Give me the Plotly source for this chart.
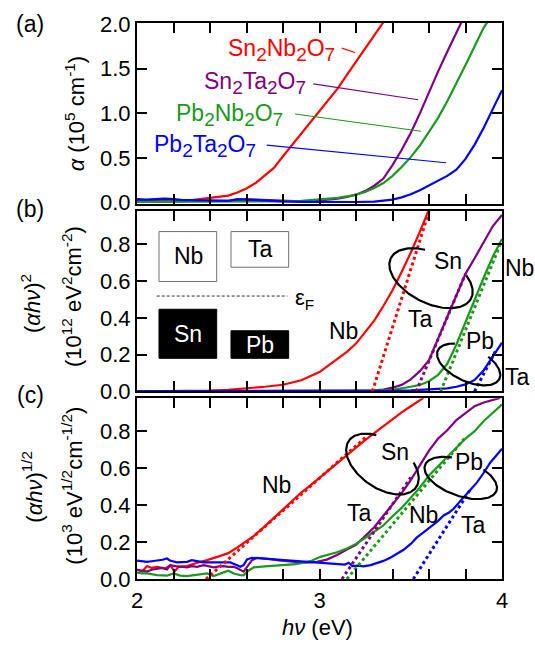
import numpy as np
import plotly.graph_objects as go

# ------------------------------------------------------------------
# DATA
# ------------------------------------------------------------------
# panel (a): alpha (1e5 cm^-1) vs photon energy (eV)
a_snnb_x = [2.0, 2.1, 2.2, 2.3, 2.4, 2.5, 2.55, 2.6, 2.65, 2.7, 2.75, 2.8, 2.85, 2.9, 2.95,
            3.0, 3.05, 3.1, 3.15, 3.2, 3.25, 3.3, 3.35]
a_snnb_y = [0.01, 0.01, 0.015, 0.028, 0.05, 0.08, 0.115, 0.16, 0.22, 0.30, 0.39, 0.52, 0.645,
            0.77, 0.90, 1.03, 1.15, 1.28, 1.43, 1.58, 1.73, 1.87, 2.02]

a_snta_x = [2.0, 2.1, 2.2, 2.3, 2.4, 2.5, 2.55, 2.6, 2.65, 2.7, 2.8, 2.9, 3.0, 3.05, 3.1, 3.15,
            3.2, 3.25, 3.3, 3.35, 3.4, 3.45, 3.5, 3.55, 3.6, 3.65, 3.7, 3.75, 3.78]
a_snta_y = [0.02, 0.015, 0.015, 0.02, 0.02, 0.02, 0.03, 0.04, 0.035, 0.03, 0.02, 0.015, 0.025,
            0.035, 0.045, 0.065, 0.09, 0.13, 0.19, 0.27, 0.42, 0.59, 0.78, 1.0, 1.24, 1.47,
            1.69, 1.91, 2.03]

a_pbnb_x = [2.0, 2.2, 2.4, 2.6, 2.8, 2.9, 3.0, 3.05, 3.1, 3.15, 3.2, 3.25, 3.3, 3.35, 3.4,
            3.45, 3.5, 3.55, 3.6, 3.65, 3.7, 3.75, 3.8, 3.85, 3.9, 3.93]
a_pbnb_y = [0.01, 0.01, 0.01, 0.015, 0.015, 0.02, 0.035, 0.045, 0.055, 0.07, 0.09, 0.12,
            0.165, 0.22, 0.30, 0.40, 0.51, 0.64, 0.79, 0.95, 1.135, 1.33, 1.54, 1.75, 1.96, 2.05]

a_pbta_x = [2.0, 2.05, 2.1, 2.15, 2.2, 2.25, 2.3, 2.4, 2.5, 2.55, 2.6, 2.7, 2.8, 2.9, 3.0,
            3.1, 3.2, 3.3, 3.35, 3.4, 3.45, 3.5, 3.55, 3.6, 3.65, 3.7, 3.75, 3.8, 3.85, 3.9,
            3.95, 4.0]
a_pbta_y = [0.04, 0.035, 0.04, 0.045, 0.04, 0.03, 0.03, 0.025, 0.02, 0.04, 0.035, 0.02, 0.015,
            0.01, 0.008, 0.008, 0.008, 0.012, 0.02, 0.035, 0.06, 0.095, 0.14, 0.195, 0.245,
            0.30, 0.37, 0.49, 0.65, 0.84, 1.05, 1.26]

# panel (b): (alpha h nu)^2  (1e12 eV^2 cm^-2)
b_snnb_x = [2.0, 2.2, 2.4, 2.5, 2.6, 2.7, 2.8, 2.9, 3.0, 3.1, 3.15, 3.2, 3.25, 3.3, 3.35,
            3.4, 3.45, 3.5, 3.55, 3.6]
b_snnb_y = [0.0, 0.001, 0.004, 0.008, 0.015, 0.025, 0.036, 0.06, 0.105, 0.175, 0.215, 0.26,
            0.32, 0.385, 0.465, 0.55, 0.65, 0.755, 0.87, 0.99]

b_snta_x = [2.0, 2.5, 3.0, 3.2, 3.3, 3.35, 3.4, 3.45, 3.5, 3.55, 3.6, 3.65, 3.7, 3.75, 3.8,
            3.85, 3.9, 3.95, 4.0]
b_snta_y = [0.0, 0.0, 0.002, 0.004, 0.006, 0.01, 0.02, 0.035, 0.065, 0.11, 0.17, 0.29, 0.41,
            0.525, 0.64, 0.725, 0.815, 0.9, 0.96]

b_pbnb_x = [2.0, 3.0, 3.3, 3.4, 3.45, 3.5, 3.55, 3.6, 3.65, 3.7, 3.75, 3.8, 3.85, 3.9, 3.95,
            4.0]
b_pbnb_y = [0.0, 0.002, 0.004, 0.008, 0.015, 0.025, 0.035, 0.055, 0.09, 0.15, 0.255, 0.38,
            0.505, 0.62, 0.735, 0.83]

b_pbta_x = [2.0, 3.0, 3.4, 3.5, 3.6, 3.7, 3.75, 3.8, 3.85, 3.9, 3.95, 4.0]
b_pbta_y = [0.0, 0.0, 0.003, 0.005, 0.009, 0.016, 0.025, 0.038, 0.062, 0.115, 0.19, 0.265]

# linear extrapolations in (b) (direct gap)
b_fit_snnb = ([3.29, 3.60], [0.0, 0.98])
b_fit_snta = ([3.53, 3.80], [0.0, 0.64])
b_fit_pbnb = ([3.664, 3.99], [0.0, 0.80])
b_fit_pbta = ([3.85, 3.965], [0.0, 0.22])

# panel (c): (alpha h nu)^(1/2)  (1e3 eV^1/2 cm^-1/2)
c_snnb_x = [2.0, 2.027, 2.055, 2.08, 2.11, 2.155, 2.183, 2.205, 2.228, 2.274, 2.329, 2.384,
            2.457, 2.5, 2.548, 2.6, 2.639, 2.7, 2.75, 2.8, 2.85, 2.9, 2.95, 3.0, 3.05, 3.1,
            3.15, 3.2, 3.25, 3.3, 3.35, 3.4, 3.45, 3.5, 3.57]
c_snnb_y = [0.052, 0.04, 0.07, 0.06, 0.066, 0.056, 0.075, 0.04, 0.066, 0.07, 0.088, 0.102,
            0.125, 0.14, 0.17, 0.205, 0.232, 0.285, 0.33, 0.38, 0.42, 0.468, 0.507, 0.548,
            0.59, 0.633, 0.672, 0.71, 0.752, 0.79, 0.828, 0.862, 0.902, 0.935, 0.98]

c_snta_x = [2.0, 2.027, 2.055, 2.08, 2.11, 2.14, 2.164, 2.183, 2.21, 2.237, 2.274, 2.3, 2.329,
            2.365, 2.39, 2.42, 2.45, 2.475, 2.5, 2.53, 2.55, 2.566, 2.584, 2.603, 2.63, 2.658,
            2.7, 2.73, 2.78, 2.82, 2.87, 2.913, 2.95, 2.986, 3.04, 3.096, 3.15, 3.2, 3.25,
            3.3, 3.35, 3.4, 3.45, 3.5, 3.55, 3.6, 3.65, 3.7, 3.75, 3.8, 3.85, 3.9, 3.95, 3.99]
c_snta_y = [0.05, 0.045, 0.04, 0.05, 0.057, 0.06, 0.052, 0.075, 0.07, 0.066, 0.063, 0.07,
            0.066, 0.075, 0.068, 0.063, 0.068, 0.07, 0.066, 0.066, 0.058, 0.048, 0.04, 0.066,
            0.102, 0.115, 0.112, 0.108, 0.1, 0.097, 0.092, 0.088, 0.09, 0.093, 0.105, 0.13,
            0.16, 0.185, 0.232, 0.28, 0.342, 0.405, 0.465, 0.535, 0.612, 0.695, 0.76, 0.805,
            0.86, 0.9, 0.935, 0.955, 0.97, 0.98]

c_pbnb_x = [2.0, 2.027, 2.055, 2.08, 2.11, 2.14, 2.164, 2.2, 2.237, 2.274, 2.3, 2.329, 2.36,
            2.384, 2.42, 2.45, 2.475, 2.5, 2.53, 2.566, 2.584, 2.61, 2.64, 2.7, 2.73, 2.78,
            2.82, 2.87, 2.913, 2.96, 3.005, 3.05, 3.096, 3.15, 3.2, 3.25, 3.3, 3.35, 3.4,
            3.45, 3.5, 3.55, 3.6, 3.65, 3.7, 3.75, 3.8, 3.85, 3.9, 3.95, 4.0]
c_pbnb_y = [0.035, 0.03, 0.03, 0.025, 0.021, 0.02, 0.018, 0.03, 0.018, 0.016, 0.02, 0.021,
            0.028, 0.03, 0.016, 0.025, 0.036, 0.045, 0.03, 0.021, 0.02, 0.045, 0.063, 0.068,
            0.07, 0.072, 0.075, 0.08, 0.088, 0.1, 0.12, 0.132, 0.145, 0.165, 0.19, 0.222,
            0.255, 0.29, 0.34, 0.385, 0.44, 0.495, 0.56, 0.61, 0.66, 0.71, 0.76, 0.8, 0.855,
            0.9, 0.945]

c_pbta_x = [2.0, 2.027, 2.055, 2.08, 2.11, 2.14, 2.164, 2.18, 2.219, 2.25, 2.274, 2.3, 2.329,
            2.365, 2.4, 2.457, 2.511, 2.548, 2.566, 2.584, 2.603, 2.63, 2.7, 2.73, 2.78, 2.82,
            2.87, 2.913, 2.96, 3.005, 3.05, 3.096, 3.14, 3.16, 3.18, 3.21, 3.242, 3.28, 3.315,
            3.35, 3.388, 3.42, 3.461, 3.5, 3.534, 3.57, 3.607, 3.65, 3.68, 3.71, 3.735, 3.76,
            3.79, 3.82, 3.863, 3.9, 3.936, 3.97, 4.0]
c_pbta_y = [0.099, 0.095, 0.093, 0.096, 0.099, 0.104, 0.111, 0.1, 0.09, 0.092, 0.093, 0.102,
            0.098, 0.09, 0.09, 0.088, 0.09, 0.075, 0.066, 0.075, 0.106, 0.115, 0.11, 0.106,
            0.103, 0.1, 0.095, 0.092, 0.09, 0.088, 0.085, 0.082, 0.078, 0.088, 0.07, 0.072,
            0.068, 0.075, 0.086, 0.098, 0.115, 0.135, 0.158, 0.19, 0.225, 0.252, 0.281, 0.315,
            0.344, 0.36, 0.38, 0.41, 0.443, 0.475, 0.523, 0.575, 0.631, 0.67, 0.705]

# linear extrapolations in (c) (indirect gap)
c_fit_snnb = ([2.378, 3.25], [0.0, 0.765])
c_fit_snta = ([3.123, 3.50], [0.0, 0.55])
c_fit_pbnb = ([3.15, 3.80], [0.0, 0.767])
c_fit_pbta = ([3.514, 3.83], [0.0, 0.49])

# texts
SUB = "<sub><span style='font-size:19px'>{}</span></sub>"
compound_labels = ["Sn" + SUB.format(2) + "Nb" + SUB.format(2) + "O" + SUB.format(7),
                   "Sn" + SUB.format(2) + "Ta" + SUB.format(2) + "O" + SUB.format(7),
                   "Pb" + SUB.format(2) + "Nb" + SUB.format(2) + "O" + SUB.format(7),
                   "Pb" + SUB.format(2) + "Ta" + SUB.format(2) + "O" + SUB.format(7)]
label_pos = [(3.096, 1.71), (2.937, 1.34), (2.811, 0.98), (2.663, 0.63)]
leader_x = [[3.122, 3.195], [2.966, 3.541], [2.866, 3.556], [2.711, 3.693]]
leader_y = [[1.73, 1.68], [1.33, 1.152], [0.992, 0.80], [0.644, 0.448]]

# ------------------------------------------------------------------
# LAYOUT GEOMETRY
# ------------------------------------------------------------------
W, H = 535, 645
ML, MR, MT, MB = 137, 33, 19, 66
PW = W - ML - MR
PH = H - MT - MB

def py2paper(py):
    return (H - MB - py) / PH

def px2paper(px):
    return (px - ML) / PW

dom_a = [py2paper(201), py2paper(19)]
dom_b = [py2paper(390), py2paper(208)]
dom_c = [0.0, py2paper(397)]
rng_a = [-0.011, 2.011]
rng_b = [0.0, 0.984]
rng_c = [0.0, 0.978]
XR = [2, 4]

RED, PURPLE, GREEN, BLUE = '#ff0000', '#800080', '#1a9a1a', '#0000ff'
colors = [RED, PURPLE, GREEN, BLUE]
FONT = 'Liberation Sans, Arial, Helvetica, sans-serif'

fig = go.Figure()

def line(x, y, color, ax, width=2.2, dash=None, yax=None):
    fig.add_trace(go.Scatter(x=x, y=y, mode='lines', xaxis='x' + ax,
                             yaxis='y' + (ax if yax is None else yax),
                             line=dict(color=color, width=width, dash=dash),
                             hoverinfo='skip', showlegend=False))

# panel (a)
for xs, ys, c in zip([a_snnb_x, a_snta_x, a_pbnb_x, a_pbta_x],
                     [a_snnb_y, a_snta_y, a_pbnb_y, a_pbta_y], colors):
    line(xs, ys, c, '')
for lx, ly, c in zip(leader_x, leader_y, colors):
    line(lx, ly, c, '', width=1.1)

# panel (b)
for xs, ys, c in zip([b_snnb_x, b_snta_x, b_pbnb_x, b_pbta_x],
                     [b_snnb_y, b_snta_y, b_pbnb_y, b_pbta_y], colors):
    line(xs, ys, c, '2')
for (fx, fy), c in zip([b_fit_snnb, b_fit_snta, b_fit_pbnb, b_fit_pbta], colors):
    line(fx, fy, c, '2', width=3, dash='dot')

# panel (c)
for xs, ys, c in zip([c_snnb_x, c_snta_x, c_pbnb_x, c_pbta_x],
                     [c_snnb_y, c_snta_y, c_pbnb_y, c_pbta_y], colors):
    line(xs, ys, c, '3')
for (fx, fy), c in zip([c_fit_snnb, c_fit_snta, c_fit_pbnb, c_fit_pbta], colors):
    line(fx, fy, c, '3', width=3, dash='dot')

# open ellipses (decoration), sizes in pixels, centre in data units
sx = PW / (XR[1] - XR[0])
sy_b = (dom_b[1] - dom_b[0]) * PH / (rng_b[1] - rng_b[0])
sy_c = (dom_c[1] - dom_c[0]) * PH / (rng_c[1] - rng_c[0])

def ellipse(cx, cy, a, b, theta, gap, sy, ax):
    t = np.radians(np.linspace(gap[1], gap[0] + 360, 140))
    th = np.radians(theta)
    dx = a * np.cos(t) * np.cos(th) - b * np.sin(t) * np.sin(th)
    dy = a * np.cos(t) * np.sin(th) + b * np.sin(t) * np.cos(th)
    line(cx + dx / sx, cy - dy / sy, 'black', ax, width=2.2)

ellipse(3.611, 0.616, 45, 25, 27, (-114, -48), sy_b, '2')
ellipse(3.8175, 0.146, 34, 17, 25, (-129, -65), sy_b, '2')
ellipse(3.345, 0.622, 41, 24, 35, (-122, -53), sy_c, '3')
ellipse(3.774, 0.547, 38, 18, 20, (-114, -61), sy_c, '3')

# ------------------------------------------------------------------
# AXES (main axes + overlay axes for ticks on the top / right sides)
# ------------------------------------------------------------------
TK = dict(ticks='inside', ticklen=10, tickwidth=2, tickcolor='black')
xcommon = dict(range=XR, showline=True, linecolor='black', linewidth=2, mirror=True,
               tick0=2, dtick=1, showgrid=False, zeroline=False,
               minor=dict(dtick=0.2, showgrid=False, **TK), **TK)
ycommon = dict(showline=True, linecolor='black', linewidth=2, mirror=True,
               showgrid=False, zeroline=False, tickformat='.1f', tick0=0,
               tickfont=dict(size=22), **TK)
xtop = dict(range=XR, showline=False, tick0=2, dtick=1, showgrid=False, zeroline=False,
            side='top', showticklabels=False, minor=dict(dtick=0.2, showgrid=False, **TK), **TK)
yright = dict(showline=False, showgrid=False, zeroline=False, tick0=0, side='right',
              showticklabels=False, **TK)

fig.update_layout(
    width=W, height=H, margin=dict(l=ML, r=MR, t=MT, b=MB),
    plot_bgcolor='white', paper_bgcolor='white', showlegend=False,
    font=dict(family=FONT, size=22, color='black'),
    xaxis=dict(xcommon, anchor='y', showticklabels=False),
    xaxis2=dict(xcommon, anchor='y2', showticklabels=False),
    xaxis3=dict(xcommon, anchor='y3', showticklabels=True, tickfont=dict(size=22),
                ticklabelstandoff=1),
    yaxis=dict(ycommon, domain=dom_a, range=rng_a, dtick=0.5, anchor='x'),
    yaxis2=dict(ycommon, domain=dom_b, range=rng_b, dtick=0.2, anchor='x2'),
    yaxis3=dict(ycommon, domain=dom_c, range=rng_c, dtick=0.2, anchor='x3'),
    xaxis4=dict(xtop, overlaying='x', anchor='y'),
    xaxis5=dict(xtop, overlaying='x2', anchor='y2'),
    xaxis6=dict(xtop, overlaying='x3', anchor='y3'),
    yaxis4=dict(yright, overlaying='y', anchor='x', range=rng_a, dtick=0.5),
    yaxis5=dict(yright, overlaying='y2', anchor='x2', range=rng_b, dtick=0.2),
    yaxis6=dict(yright, overlaying='y3', anchor='x3', range=rng_c, dtick=0.2),
)
# empty traces so the overlay axes are drawn
for xa, ya in [('4', ''), ('5', '2'), ('6', '3'), ('', '4'), ('2', '5'), ('3', '6')]:
    fig.add_trace(go.Scatter(x=[], y=[], xaxis='x' + xa, yaxis='y' + ya, mode='lines',
                             showlegend=False, hoverinfo='skip'))

# ------------------------------------------------------------------
# SHAPES: band schematic in panel (b)
# ------------------------------------------------------------------
box_line = dict(color='#707070', width=1)
fig.add_shape(type='rect', xref='x2', yref='y2', x0=2.1205, x1=2.4367, y0=0.598, y1=0.870,
              line=box_line, fillcolor='white')
fig.add_shape(type='rect', xref='x2', yref='y2', x0=2.515, x1=2.831, y0=0.676, y1=0.870,
              line=box_line, fillcolor='white')
fig.add_shape(type='rect', xref='x2', yref='y2', x0=2.1205, x1=2.4367, y0=0.18, y1=0.447,
              line=dict(color='black', width=1), fillcolor='black')
fig.add_shape(type='rect', xref='x2', yref='y2', x0=2.515, x1=2.831, y0=0.18, y1=0.33,
              line=dict(color='black', width=1), fillcolor='black')
fig.add_shape(type='line', xref='x2', yref='y2', x0=2.108, x1=2.824, y0=0.519, y1=0.519,
              line=dict(color='#303030', width=1, dash='3px,2px'))

# ------------------------------------------------------------------
# ANNOTATIONS
# ------------------------------------------------------------------
def ann(text, x, y, xref, yref, size=23, color='black', xanchor='center', yanchor='middle',
        angle=0):
    fig.add_annotation(text=text, x=x, y=y, xref=xref, yref=yref, showarrow=False,
                       font=dict(size=size, color=color, family=FONT), xanchor=xanchor,
                       yanchor=yanchor, textangle=angle)

for txt, (lx, ly), c in zip(compound_labels, label_pos, colors):
    ann(txt, lx, ly, 'x', 'y', size=23, color=c, xanchor='right')

# panel (b) labels
ann('Nb', 3.129, 0.33, 'x2', 'y2')
ann('Ta', 3.556, 0.395, 'x2', 'y2')
ann('Sn', 3.704, 0.708, 'x2', 'y2')
ann('Pb', 3.879, 0.276, 'x2', 'y2')
ann('Nb', px2paper(519), py2paper(266), 'paper', 'paper')
ann('Ta', px2paper(517), py2paper(376), 'paper', 'paper')
ann('Nb', 2.2795, 0.735, 'x2', 'y2')
ann('Ta', 2.674, 0.773, 'x2', 'y2')
ann('Sn', 2.2795, 0.3135, 'x2', 'y2', color='white')
ann('Pb', 2.674, 0.254, 'x2', 'y2', color='white')
ann('ε<sub>F</sub>', 2.855, 0.505, 'x2', 'y2', size=22, xanchor='left')

# panel (c) labels
ann('Nb', 2.767, 0.509, 'x3', 'y3')
ann('Sn', 3.416, 0.688, 'x3', 'y3')
ann('Ta', 3.22, 0.357, 'x3', 'y3')
ann('Nb', 3.571, 0.349, 'x3', 'y3')
ann('Pb', 3.817, 0.634, 'x3', 'y3')
ann('Ta', 3.845, 0.294, 'x3', 'y3')

# panel letters
ann('(a)', px2paper(30), py2paper(20), 'paper', 'paper')
ann('(b)', px2paper(30), py2paper(206), 'paper', 'paper')
ann('(c)', px2paper(30), py2paper(394), 'paper', 'paper')

# axis titles
ann('<i>α</i> (10<sup>5</sup> cm<sup>-1</sup>)', px2paper(75), py2paper(110), 'paper', 'paper',
    size=22, angle=-90)
ann('(<i>αhν</i>)<sup>2</sup>', px2paper(31), py2paper(302), 'paper', 'paper', size=22, angle=-90)
ann('(10<sup>12</sup> eV<sup>2</sup>cm<sup>-2</sup>)', px2paper(72), py2paper(295), 'paper',
    'paper', size=22, angle=-90)
ann('(<i>αhν</i>)<sup>1/2</sup>', px2paper(32), py2paper(486), 'paper', 'paper', size=22,
    angle=-90)
ann('(10<sup>3</sup> eV<sup>1/2</sup>cm<sup>-1/2</sup>)', px2paper(72), py2paper(485), 'paper',
    'paper', size=22, angle=-90)
ann('<i>hν</i> (eV)', px2paper(317), py2paper(628), 'paper', 'paper', size=22)

fig.write_html('out.html')
